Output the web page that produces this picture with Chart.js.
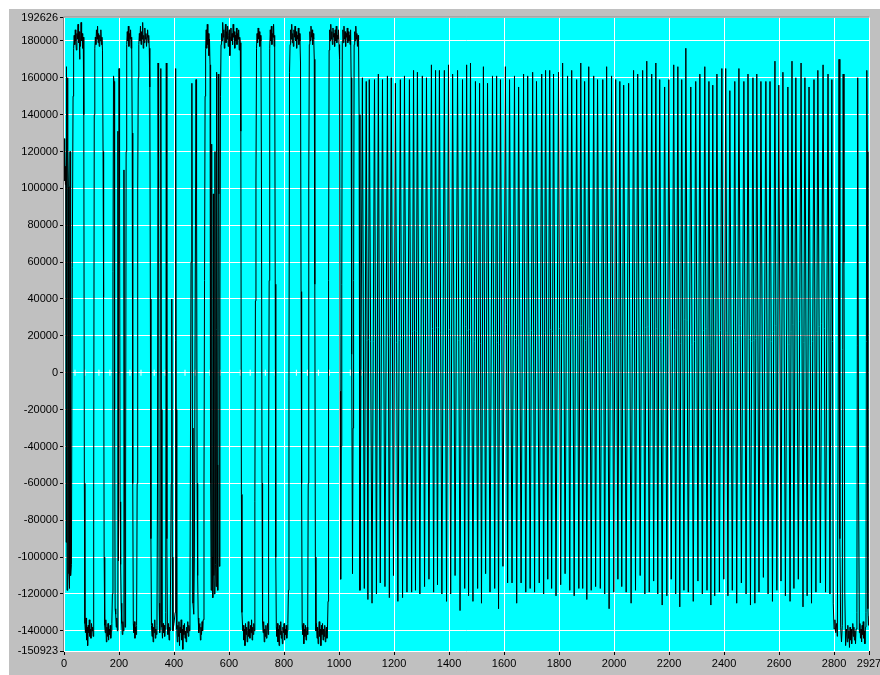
<!DOCTYPE html>
<html>
<head>
<meta charset="utf-8">
<script src="https://cdn.jsdelivr.net/npm/chart.js@4.4.1/dist/chart.umd.min.js"></script>
<style>
  html, body { margin: 0; padding: 0; background: #ffffff; }
  #panel { position: absolute; left: 9px; top: 9px; width: 871px; height: 666px; background: #c0c0c0; }
</style>
</head>
<body>
<div id="panel"><canvas id="wave"></canvas></div>
<script>
// axis ticks as printed on the plot
const xTicks = [0, 200, 400, 600, 800, 1000, 1200, 1400, 1600, 1800, 2000, 2200, 2400, 2600, 2800, 2927];
const yTicks = [192626, 180000, 160000, 140000, 120000, 100000, 80000, 60000, 40000, 20000, 0,
  -20000, -40000, -60000, -80000, -100000, -120000, -140000, -150923];

// [sample, value in thousands]
// slow part, 0..1076
const head = [
  [0,127],[2,104],[3,121],[5,102],[6,112],[8,-92],[9,166],[11,-118],[13,160],[14,121],[16,101],[18,-109],[20,-117],
  [22,120],[24,-110],[27,-104],[30,57],[33,150],[35,176],
  [37,183],[39,178],[41,186],[43,180],[45,175],[47,184],[49,181],[51,189],[53,179],[55,185],[57,170],[58,183],[60,177],
  [62,190],[64,180],[66,184],[68,176],[70,182],
  [72,140],[74,-60],[76,-136],
  [78,-141],[80,-133],[82,-145],[84,-138],[86,-148],[88,-137],[90,-141],[92,-134],[94,-143],[96,-139],[98,-144],
  [100,-136],[102,-140],[104,-138],[106,-143],
  [108,-60],[110,140],[112,176],
  [114,182],[116,178],[118,186],[120,181],[122,188],[124,179],[126,184],[128,177],[130,183],[132,180],[134,186],
  [136,178],[138,182],[140,175],
  [142,120],[144,41],[146,-100],[148,-137],
  [150,-141],[152,-134],[154,-146],[156,-138],[158,-143],[160,-136],[162,-145],[164,-139],[166,-142],[168,-137],
  [170,-144],[172,-140],[174,-136],
  [176,-120],[178,55],[180,161],[182,158],[184,-20],[186,-128],[188,-131],[190,-138],[192,-133],[194,-140],[196,131],
  [198,-102],[200,165],[202,100],[204,-70],[206,-104],[208,-125],[210,-136],[212,-142],[214,-135],[216,-140],
  [218,110],[220,-60],[222,-138],[224,-60],[226,120],[228,178],
  [230,185],[232,180],[234,188],[236,177],[238,184],[240,181],[242,186],[244,176],[246,182],
  [248,130],[250,-60],[252,-136],
  [254,-141],[256,-135],[258,-144],[260,-138],[262,-142],[264,-137],
  [266,-60],[268,100],[270,160],[272,178],
  [274,184],[276,180],[278,188],[280,178],[282,185],[284,181],[286,190],[288,176],[290,183],[292,179],[294,187],
  [296,181],[298,184],[300,177],[302,182],[304,186],[306,179],[308,183],[310,176],
  [312,155],[314,40],[316,-90],[318,-137],
  [320,-143],[322,-136],[324,-146],[326,-138],[328,-141],[330,-134],[332,-144],[334,-139],[336,-142],[338,-137],
  [340,-60],[342,168],[344,100],[346,-125],[348,-141],[350,-135],[352,165],[354,-20],[356,-138],[358,-144],
  [360,-136],[362,-141],[364,-137],[366,-143],[368,-139],[370,-130],[372,168],[374,-90],[376,-138],[378,-142],
  [380,-136],[382,-145],[384,-138],[386,-140],[390,-60],[392,40],[394,-100],[396,-140],[400,-136],[404,-130],
  [406,165],[408,-20],[410,-139],
  [412,-146],[414,-137],[416,-143],[418,-135],[420,-148],[422,-138],[424,-141],[426,-134],[428,-145],[430,-139],
  [432,-150],[434,-137],[436,-142],[438,-136],[440,-144],[442,-140],[444,-146],[446,-138],[448,-141],[450,-135],
  [452,-143],[454,-137],[456,-140],
  [458,-120],[462,60],[465,157],[467,-30],[469,-125],[472,-131],[474,-100],[478,80],[480,159],[482,100],[484,-60],
  [486,-110],[488,-133],[490,-141],
  [494,-136],[496,-145],[498,-138],[500,-142],[502,-135],[504,-140],[506,-134],
  [509,-60],[511,50],[513,150],[515,176],
  [517,186],[519,176],[521,189],[523,178],[525,184],[527,172],[529,181],[531,167],
  [533,-60],[535,-118],[537,124],[539,-100],[541,-122],[543,97],[545,-110],[547,-120],[549,120],[551,-104],
  [553,-116],[555,163],[557,-50],[559,-118],[561,162],[563,97],[565,-105],[567,40],[569,150],[571,178],
  [573,184],[575,180],[577,190],[579,182],[581,186],[583,176],[585,184],[587,189],[589,179],[591,185],[593,181],
  [595,188],[597,177],[599,183],[601,186],[603,172],[605,182],[607,187],[609,180],[611,184],[613,178],[615,189],
  [617,182],[619,185],[621,176],[623,183],[625,180],[627,187],[629,178],[631,184],[633,181],[635,186],[637,175],
  [639,182],[641,179],
  [643,131],[645,-66],[647,-130],[650,-140],
  [652,-137],[654,-145],[656,-139],[658,-148],[660,-136],[662,-142],[664,-138],[666,-146],[668,-140],[670,-135],
  [672,-143],[674,-139],[676,-144],[678,-137],[680,-141],[682,-134],[684,-145],[686,-138],[688,-142],[690,-136],
  [692,-140],
  [694,-70],[696,39],[698,104],[700,176],
  [702,184],[704,179],[706,187],[708,181],[710,185],[712,177],[714,183],[716,180],
  [718,104],[720,-60],[722,-136],
  [724,-141],[726,-135],[728,-146],[730,-139],[732,-143],[734,-137],[736,-144],[738,-140],[740,-136],[742,-142],
  [744,-50],[746,50],[748,176],
  [750,186],[752,180],[754,188],[756,178],[758,184],[760,182],[762,189],[764,177],[766,183],
  [768,48],[770,-100],[772,-138],
  [774,-143],[776,-136],[778,-146],[780,-139],[782,-148],[784,-137],[786,-142],[788,-135],[790,-144],[792,-140],
  [794,-147],[796,-138],[798,-141],[800,-136],[802,-145],[804,-139],[806,-142],[808,-137],[810,-144],[812,-140],
  [814,-136],
  [816,-118],[818,-4],[820,163],[822,178],
  [824,186],[826,181],[828,189],[830,179],[832,184],[834,177],[836,186],[838,182],[840,188],[842,180],[844,185],
  [846,176],[848,183],[850,181],[852,187],[854,178],[856,184],[858,180],
  [860,168],[862,44],[864,-60],[866,-137],
  [868,-142],[870,-136],[872,-147],[874,-139],[876,-143],[878,-137],[880,-145],[882,-140],[884,-138],[886,-142],
  [888,-60],[890,104],[892,178],
  [894,185],[896,180],[898,188],[900,182],[902,186],[904,178],[906,184],[908,181],
  [910,170],[912,48],[914,-100],[916,-140],
  [918,-136],[920,-144],[922,-138],[924,-147],[926,-140],[928,-135],[930,-143],[932,-139],[934,-148],[936,-137],
  [938,-142],[940,-136],[942,-145],[944,-139],[946,-143],[948,-137],[950,-146],[952,-140],[954,-138],[956,-144],
  [958,-139],
  [960,-124],[962,50],[964,175],
  [966,186],[968,180],[970,189],[972,181],[974,185],[976,178],[978,187],[980,182],[982,184],[984,177],[986,186],
  [988,180],[990,188],[992,179],[994,183],[996,181],[998,186],[1000,178],
  [1002,170],[1004,-10],[1006,-112],
  [1008,-40],[1010,48],[1012,180],
  [1014,186],[1016,179],[1018,188],[1020,181],[1022,185],[1024,177],[1026,184],[1028,182],[1030,187],[1032,179],
  [1034,185],[1036,180],[1038,183],[1040,178],[1042,186],
  [1044,160],[1046,10],[1049,-109],
  [1051,-30],[1053,50],[1055,178],
  [1057,185],[1059,180],[1061,188],[1063,181],[1065,184],[1067,177],[1069,183],[1071,180],
  [1073,140],[1076,-118]
];

// fast part, peaks and troughs 1085..2792
const burst = [
  [1085,160],[1092,-117],[1099,158],[1105,-123],[1110,159],[1120,-125],[1129,159],[1136,-120],[1143,162],[1150,-114],
  [1158,159],[1167,-116],[1176,161],[1183,-122],[1190,160],[1198,-110],[1205,157],[1214,-124],[1223,159],[1231,-122],
  [1238,161],[1247,-119],[1256,159],[1264,-119],[1271,164],[1278,-118],[1285,163],[1294,-120],[1303,161],[1311,-116],
  [1318,160],[1327,-112],[1336,167],[1344,-119],[1351,164],[1358,-115],[1365,164],[1374,-120],[1383,164],[1391,-124],
  [1398,167],[1406,-120],[1413,162],[1422,-110],[1431,164],[1440,-129],[1449,159],[1457,-117],[1464,167],[1471,-121],
  [1478,168],[1487,-124],[1496,158],[1504,-117],[1511,157],[1518,-125],[1525,166],[1533,-109],[1540,157],[1549,-119],
  [1558,161],[1566,-117],[1573,161],[1580,-128],[1587,159],[1596,-105],[1605,166],[1613,-114],[1620,159],[1629,-114],
  [1638,161],[1646,-125],[1653,155],[1662,-114],[1671,162],[1679,-119],[1686,161],[1695,-117],[1704,163],[1711,-119],
  [1718,158],[1728,-114],[1737,162],[1744,-120],[1751,164],[1759,-112],[1766,164],[1773,-117],[1780,162],[1789,-121],
  [1798,163],[1806,-115],[1813,168],[1822,-109],[1831,161],[1839,-118],[1846,164],[1855,-121],[1864,159],[1872,-117],
  [1879,168],[1886,-117],[1893,158],[1901,-123],[1908,166],[1917,-118],[1926,161],[1933,-116],[1940,159],[1950,-117],
  [1959,159],[1966,-120],[1973,166],[1982,-128],[1991,161],[1999,-119],[2006,159],[2014,-112],[2021,158],[2028,-116],
  [2035,156],[2044,-119],[2053,157],[2062,-125],[2071,164],[2078,-118],[2086,162],[2095,-110],[2104,164],[2112,-120],
  [2119,169],[2128,-119],[2137,162],[2144,-113],[2152,168],[2159,-120],[2166,159],[2175,-126],[2184,155],[2192,-121],
  [2199,159],[2208,-112],[2217,167],[2224,-120],[2232,166],[2239,-127],[2246,159],[2254,-118],[2261,176],[2270,-119],
  [2279,155],[2288,-124],[2297,158],[2305,-113],[2312,162],[2321,-120],[2330,166],[2338,-118],[2345,158],[2352,-126],
  [2359,156],[2366,-121],[2374,162],[2383,-119],[2392,165],[2399,-112],[2406,165],[2414,-121],[2421,153],[2430,-118],
  [2439,158],[2446,-125],[2454,165],[2463,-114],[2472,158],[2480,-120],[2487,162],[2496,-126],[2505,160],[2512,-125],
  [2519,162],[2527,-119],[2534,158],[2543,-111],[2552,158],[2560,-120],[2567,158],[2576,-124],[2585,169],[2592,-118],
  [2599,156],[2607,-113],[2614,163],[2623,-121],[2632,155],[2640,-124],[2647,169],[2654,-117],[2661,160],[2670,-112],
  [2680,168],[2687,-127],[2694,160],[2702,-121],[2709,155],[2718,-125],[2727,159],[2734,-119],[2741,164],[2750,-114],
  [2760,167],[2769,-119],[2778,162],[2785,-120],[2792,159]
];

// back to the low level at the end
const tail = [
  [2797,-125],[2800,-139],[2803,-134],[2806,-141],[2809,-136],[2812,-143],[2815,-20],[2818,170],[2821,-90],[2824,-138],
  [2827,-146],[2830,-137],[2833,162],[2836,60],[2839,-120],[2842,-148],[2845,-139],[2848,-146],[2850,-137],[2852,-144],
  [2854,-140],[2856,-149],[2858,-138],[2860,-145],[2862,-139],[2864,-147],[2866,-141],[2868,-136],[2870,-143],[2872,-138],
  [2874,-145],[2876,-140],[2878,-147],[2880,-139],[2883,-130],[2886,160],[2889,-60],[2892,-141],[2894,-136],[2896,-144],
  [2898,-139],[2900,-146],[2902,-137],[2904,-142],[2906,-135],[2908,-144],[2910,-140],[2912,-147],[2914,-138],[2916,-130],
  [2919,164],[2921,120],[2923,-128],[2925,-137],[2927,-132]
];

// little white marks sitting on the zero line
const zeroMarks = [40, 76, 127, 167, 240, 280, 328, 368, 440, 477, 531, 568, 641, 677, 732, 768, 845, 885, 925, 965, 1041, 1081];

const trace = [...head, ...burst, ...tail].map(([s, v]) => ({ x: s, y: v * 1000 }));

const plotFrame = {
  id: 'plotFrame',
  beforeDraw(chart) {
    const { ctx, chartArea: a } = chart;
    ctx.save();
    ctx.fillStyle = '#00ffff';
    ctx.fillRect(a.left, a.top, a.right - a.left, a.bottom - a.top);
    ctx.restore();
  },
  afterDraw(chart) {
    const { ctx, chartArea: a } = chart;
    ctx.save();
    ctx.strokeStyle = '#808080';
    ctx.lineWidth = 1;
    ctx.beginPath();
    ctx.moveTo(a.left - 0.5, a.bottom);
    ctx.lineTo(a.left - 0.5, a.top - 0.5);
    ctx.lineTo(a.right, a.top - 0.5);
    ctx.stroke();
    ctx.restore();
  }
};

const tickFont = { family: 'Liberation Sans', size: 11 };
const plain = v => String(v);

new Chart(document.getElementById('wave'), {
  type: 'line',
  data: {
    datasets: [{
      data: trace,
      borderColor: '#000000',
      borderWidth: 1,
      pointRadius: 0,
      tension: 0,
      fill: false
    }, {
      data: zeroMarks.map(s => ({ x: s, y: 0 })),
      showLine: false,
      pointStyle: 'line',
      rotation: 90,
      pointRadius: 3,
      borderColor: '#ffffff',
      borderWidth: 1
    }]
  },
  options: {
    responsive: true,
    maintainAspectRatio: false,
    animation: false,
    parsing: false,
    normalized: true,
    layout: { padding: { left: 0, top: 7, right: 0, bottom: 0 } },
    plugins: { legend: { display: false }, tooltip: { enabled: false } },
    scales: {
      x: {
        type: 'linear',
        min: 0,
        max: 2927,
        afterBuildTicks: s => { s.ticks = xTicks.map(v => ({ value: v })); },
        afterFit: s => { s.height = 24; s.paddingRight = 11; s.paddingLeft = 0; },
        ticks: { autoSkip: false, maxRotation: 0, color: '#000', font: tickFont, padding: 2, callback: plain },
        grid: { color: '#ffffff', lineWidth: 1, tickColor: '#000', tickLength: 4 },
        border: { display: false }
      },
      y: {
        min: -150923,
        max: 192626,
        afterBuildTicks: s => { s.ticks = yTicks.map(v => ({ value: v })); },
        afterFit: s => { s.width = 55; },
        ticks: { autoSkip: false, color: '#000', font: tickFont, padding: 2, callback: plain },
        grid: { color: '#ffffff', lineWidth: 1, tickColor: '#000', tickLength: 4 },
        border: { display: false }
      }
    }
  },
  plugins: [plotFrame]
});
</script>
</body>
</html>
